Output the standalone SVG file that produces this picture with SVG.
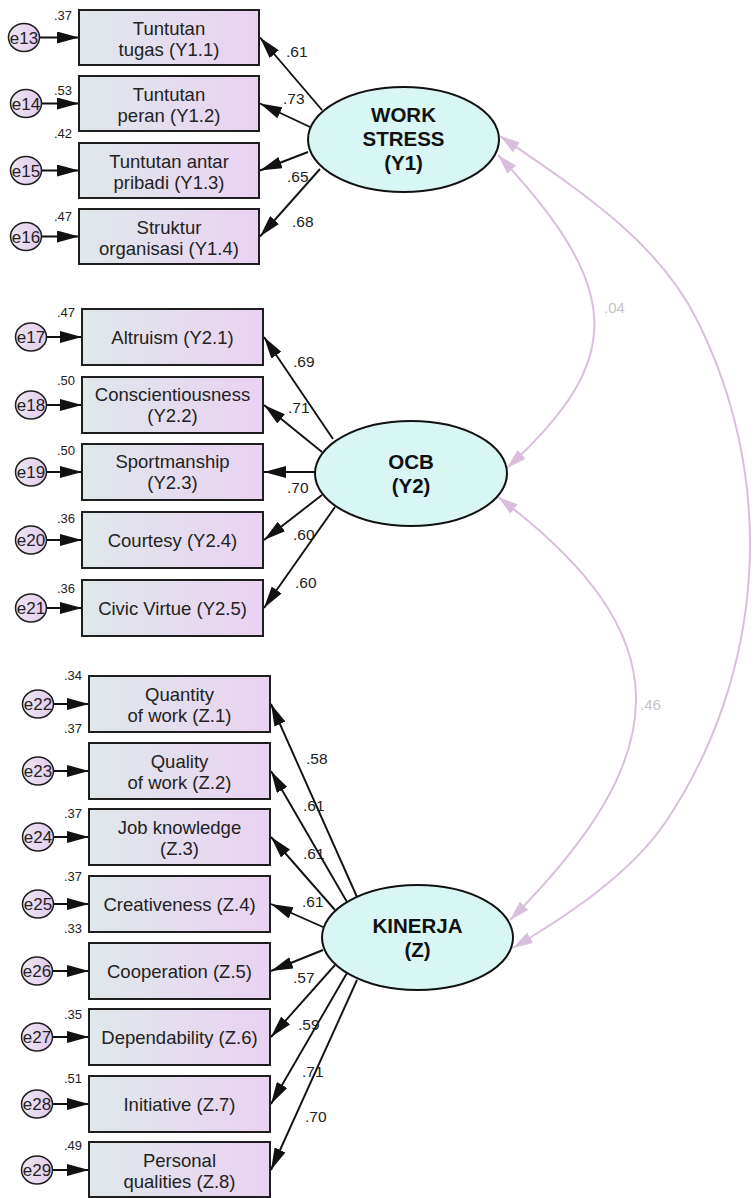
<svg xmlns="http://www.w3.org/2000/svg" width="755" height="1198" viewBox="0 0 755 1198">
  <style>
    .box { fill: url(#gBox); stroke: #1e1e1e; stroke-width: 2; }
    .err { fill: url(#gErr); stroke: #1e1e1e; stroke-width: 1.5; }
    .lat { fill: #d8f6f4; stroke: #111; stroke-width: 2; }
    .bt { font-family: "Liberation Sans", Arial, sans-serif; font-size: 18.5px; fill: #222; text-anchor: middle; }
    .et { font-family: "Liberation Sans", Arial, sans-serif; font-size: 17px; fill: #222; text-anchor: middle; }
    .lt { font-family: "Liberation Sans", Arial, sans-serif; font-size: 20.5px; font-weight: bold; fill: #111; text-anchor: middle; }
    .sm { font-family: "Liberation Sans", Arial, sans-serif; font-size: 13px; fill: #222; }
    .ld { font-family: "Liberation Sans", Arial, sans-serif; font-size: 15.5px; fill: #222; }
    .cv { font-family: "Liberation Sans", Arial, sans-serif; font-size: 15px; fill: #c4c4c4; }
    .ar { stroke: #111; stroke-width: 1.9; fill: none; marker-end: url(#ah); }
    .co { stroke: #d9bfdc; stroke-width: 2; fill: none; marker-start: url(#ahc); marker-end: url(#ahc); }
  </style>
  <defs>
    <linearGradient id="gBox" x1="0" y1="0" x2="1" y2="0">
      <stop offset="0" stop-color="#dfe8ea"/>
      <stop offset="1" stop-color="#ead2f2"/>
    </linearGradient>
    <linearGradient id="gErr" x1="0" y1="0" x2="1" y2="0">
      <stop offset="0" stop-color="#ebe6f0"/>
      <stop offset="1" stop-color="#e4cbee"/>
    </linearGradient>
    <marker id="ah" markerUnits="userSpaceOnUse" viewBox="0 0 22 12" markerWidth="22" markerHeight="12" refX="22" refY="6" orient="auto">
      <path d="M0,0 L22,6 L0,12 z" fill="#111"/>
    </marker>
    <marker id="ahc" markerUnits="userSpaceOnUse" viewBox="0 0 20 12" markerWidth="20" markerHeight="12" refX="20" refY="6" orient="auto-start-reverse">
      <path d="M0,0 L20,6 L0,12 z" fill="#d9bfdc"/>
    </marker>
  </defs>

  <!-- connectors -->
  <g id="connectors">
    <!-- error terms to indicators -->
    <line class="ar" x1="40" y1="37.5" x2="79" y2="37.5"/>
    <line class="ar" x1="42" y1="103.5" x2="79" y2="103.5"/>
    <line class="ar" x1="42" y1="170.5" x2="79" y2="170.5"/>
    <line class="ar" x1="42" y1="236.5" x2="79" y2="236.5"/>
    <line class="ar" x1="47" y1="337" x2="82" y2="337"/>
    <line class="ar" x1="47" y1="405" x2="82" y2="405"/>
    <line class="ar" x1="47" y1="472" x2="82" y2="472"/>
    <line class="ar" x1="47" y1="540" x2="82" y2="540"/>
    <line class="ar" x1="47" y1="608" x2="82" y2="608"/>
    <line class="ar" x1="54" y1="704" x2="89" y2="704"/>
    <line class="ar" x1="54" y1="771" x2="89" y2="771"/>
    <line class="ar" x1="54" y1="837" x2="89" y2="837"/>
    <line class="ar" x1="54" y1="904" x2="89" y2="904"/>
    <line class="ar" x1="53" y1="971" x2="89" y2="971"/>
    <line class="ar" x1="53" y1="1037" x2="89" y2="1037"/>
    <line class="ar" x1="53" y1="1104" x2="89" y2="1104"/>
    <line class="ar" x1="53" y1="1170" x2="89" y2="1170"/>

    <!-- WORK STRESS loadings -->
    <line class="ar" x1="322" y1="110" x2="260" y2="37.5"/>
    <line class="ar" x1="310" y1="127" x2="260" y2="103.5"/>
    <line class="ar" x1="308" y1="152" x2="260" y2="170.5"/>
    <line class="ar" x1="320" y1="169" x2="260" y2="236.5"/>

    <!-- OCB loadings -->
    <line class="ar" x1="333" y1="439" x2="264" y2="337"/>
    <line class="ar" x1="322" y1="452" x2="264" y2="405"/>
    <line class="ar" x1="315" y1="472" x2="264" y2="472"/>
    <line class="ar" x1="322" y1="495" x2="264" y2="540"/>
    <line class="ar" x1="335" y1="507" x2="264" y2="608"/>

    <!-- KINERJA loadings -->
    <line class="ar" x1="357" y1="897" x2="271" y2="704"/>
    <line class="ar" x1="347" y1="902" x2="271" y2="771"/>
    <line class="ar" x1="335" y1="910" x2="271" y2="837"/>
    <line class="ar" x1="323" y1="927" x2="271" y2="904"/>
    <line class="ar" x1="323" y1="950" x2="271" y2="971"/>
    <line class="ar" x1="335" y1="965" x2="271" y2="1037"/>
    <line class="ar" x1="347" y1="973" x2="271" y2="1104"/>
    <line class="ar" x1="357" y1="980" x2="271" y2="1170"/>

    <!-- covariances -->
    <path class="co" d="M498,155 C625,290 625,360 507,468"/>
    <path class="co" d="M500,136 C574,187 657,239 697,320 A500,500 0 0 1 667,820 C630,876 560,920 513,948"/>
    <path class="co" d="M498,497 C680,634 680,750 510,920"/>

    <!-- loading and covariance values -->
    <text class="ld" x="286" y="57">.61</text>
    <text class="ld" x="283" y="104">.73</text>
    <text class="ld" x="287" y="182">.65</text>
    <text class="ld" x="292" y="227">.68</text>
    <text class="ld" x="293" y="367">.69</text>
    <text class="ld" x="288" y="413">.71</text>
    <text class="ld" x="287" y="493">.70</text>
    <text class="ld" x="293" y="540">.60</text>
    <text class="ld" x="295" y="588">.60</text>
    <text class="ld" x="306" y="764">.58</text>
    <text class="ld" x="303" y="811">.61</text>
    <text class="ld" x="303" y="859">.61</text>
    <text class="ld" x="302" y="907">.61</text>
    <text class="ld" x="293" y="983">.57</text>
    <text class="ld" x="298" y="1030">.59</text>
    <text class="ld" x="302" y="1077">.71</text>
    <text class="ld" x="305" y="1122">.70</text>
    <text class="cv" x="604" y="313">.04</text>
    <text class="cv" x="640" y="710">.46</text>
  </g>

  <!-- WORK STRESS indicators -->
  <g id="e13"><ellipse class="err" cx="24" cy="37.5" rx="15.5" ry="14"/><text class="et" x="24" y="43.5">e13</text></g>
  <g id="e14"><ellipse class="err" cx="26" cy="103.5" rx="15.5" ry="14"/><text class="et" x="26" y="109.5">e14</text></g>
  <g id="e15"><ellipse class="err" cx="26" cy="170.5" rx="15.5" ry="14"/><text class="et" x="26" y="176.5">e15</text></g>
  <g id="e16"><ellipse class="err" cx="26" cy="236.5" rx="15.5" ry="14"/><text class="et" x="26" y="242.5">e16</text></g>

  <g id="Y1.1"><rect class="box" x="79" y="10" width="180" height="55"/><text class="bt" x="169" y="35">Tuntutan</text><text class="bt" x="169" y="56">tugas (Y1.1)</text><text class="sm" x="54" y="20">.37</text></g>
  <g id="Y1.2"><rect class="box" x="79" y="76" width="180" height="55"/><text class="bt" x="169" y="101">Tuntutan</text><text class="bt" x="169" y="122">peran (Y1.2)</text><text class="sm" x="54" y="95">.53</text></g>
  <g id="Y1.3"><rect class="box" x="79" y="143" width="180" height="55"/><text class="bt" x="169" y="168">Tuntutan antar</text><text class="bt" x="169" y="189">pribadi (Y1.3)</text><text class="sm" x="54" y="138">.42</text></g>
  <g id="Y1.4"><rect class="box" x="79" y="209" width="180" height="55"/><text class="bt" x="169" y="234">Struktur</text><text class="bt" x="169" y="255">organisasi (Y1.4)</text><text class="sm" x="54" y="221">.47</text></g>

  <!-- OCB indicators -->
  <g id="e17"><ellipse class="err" cx="31" cy="337" rx="15.5" ry="14"/><text class="et" x="31" y="343">e17</text></g>
  <g id="e18"><ellipse class="err" cx="31" cy="405" rx="15.5" ry="14"/><text class="et" x="31" y="411">e18</text></g>
  <g id="e19"><ellipse class="err" cx="31" cy="472" rx="15.5" ry="14"/><text class="et" x="31" y="478">e19</text></g>
  <g id="e20"><ellipse class="err" cx="31" cy="540" rx="15.5" ry="14"/><text class="et" x="31" y="546">e20</text></g>
  <g id="e21"><ellipse class="err" cx="31" cy="608" rx="15.5" ry="14"/><text class="et" x="31" y="614">e21</text></g>

  <g id="Y2.1"><rect class="box" x="82" y="309" width="181" height="56"/><text class="bt" x="172.5" y="343.5">Altruism (Y2.1)</text><text class="sm" x="57" y="317">.47</text></g>
  <g id="Y2.2"><rect class="box" x="82" y="377" width="181" height="56"/><text class="bt" x="172.5" y="401">Conscientiousness</text><text class="bt" x="172.5" y="422">(Y2.2)</text><text class="sm" x="57" y="385">.50</text></g>
  <g id="Y2.3"><rect class="box" x="82" y="444" width="181" height="56"/><text class="bt" x="172.5" y="468">Sportmanship</text><text class="bt" x="172.5" y="489">(Y2.3)</text><text class="sm" x="57" y="455">.50</text></g>
  <g id="Y2.4"><rect class="box" x="82" y="512" width="181" height="56"/><text class="bt" x="172.5" y="546.5">Courtesy (Y2.4)</text><text class="sm" x="57" y="523">.36</text></g>
  <g id="Y2.5"><rect class="box" x="82" y="580" width="181" height="56"/><text class="bt" x="172.5" y="614.5">Civic Virtue (Y2.5)</text><text class="sm" x="57" y="593">.36</text></g>

  <!-- KINERJA indicators -->
  <g id="e22"><ellipse class="err" cx="38" cy="704" rx="15.5" ry="14"/><text class="et" x="38" y="710">e22</text></g>
  <g id="e23"><ellipse class="err" cx="38" cy="771" rx="15.5" ry="14"/><text class="et" x="38" y="777">e23</text></g>
  <g id="e24"><ellipse class="err" cx="38" cy="837" rx="15.5" ry="14"/><text class="et" x="38" y="843">e24</text></g>
  <g id="e25"><ellipse class="err" cx="38" cy="904" rx="15.5" ry="14"/><text class="et" x="38" y="910">e25</text></g>
  <g id="e26"><ellipse class="err" cx="37" cy="971" rx="15.5" ry="14"/><text class="et" x="37" y="977">e26</text></g>
  <g id="e27"><ellipse class="err" cx="37" cy="1037" rx="15.5" ry="14"/><text class="et" x="37" y="1043">e27</text></g>
  <g id="e28"><ellipse class="err" cx="37" cy="1104" rx="15.5" ry="14"/><text class="et" x="37" y="1110">e28</text></g>
  <g id="e29"><ellipse class="err" cx="37" cy="1170" rx="15.5" ry="14"/><text class="et" x="37" y="1176">e29</text></g>

  <g id="Z.1"><rect class="box" x="89" y="676" width="181" height="56"/><text class="bt" x="179.5" y="701">Quantity</text><text class="bt" x="179.5" y="722">of work (Z.1)</text><text class="sm" x="64" y="680">.34</text></g>
  <g id="Z.2"><rect class="box" x="89" y="743" width="181" height="56"/><text class="bt" x="179.5" y="768">Quality</text><text class="bt" x="179.5" y="789">of work (Z.2)</text><text class="sm" x="64" y="733">.37</text></g>
  <g id="Z.3"><rect class="box" x="89" y="809" width="181" height="56"/><text class="bt" x="179.5" y="834">Job knowledge</text><text class="bt" x="179.5" y="855">(Z.3)</text><text class="sm" x="64" y="818">.37</text></g>
  <g id="Z.4"><rect class="box" x="89" y="876" width="181" height="56"/><text class="bt" x="179.5" y="910.5">Creativeness (Z.4)</text><text class="sm" x="64" y="881">.37</text></g>
  <g id="Z.5"><rect class="box" x="89" y="943" width="181" height="56"/><text class="bt" x="179.5" y="977.5">Cooperation (Z.5)</text><text class="sm" x="64" y="933">.33</text></g>
  <g id="Z.6"><rect class="box" x="89" y="1009" width="181" height="56"/><text class="bt" x="179.5" y="1043.5">Dependability (Z.6)</text><text class="sm" x="64" y="1019">.35</text></g>
  <g id="Z.7"><rect class="box" x="89" y="1076" width="181" height="56"/><text class="bt" x="179.5" y="1110.5">Initiative (Z.7)</text><text class="sm" x="64" y="1083">.51</text></g>
  <g id="Z.8"><rect class="box" x="89" y="1142" width="181" height="55"/><text class="bt" x="179.5" y="1167">Personal</text><text class="bt" x="179.5" y="1188">qualities (Z.8)</text><text class="sm" x="64" y="1150">.49</text></g>

  <!-- latent variables -->
  <g id="WORK_STRESS"><ellipse class="lat" cx="403.5" cy="139.5" rx="95.5" ry="52.5"/><text class="lt" x="403.5" y="122">WORK</text><text class="lt" x="403.5" y="146">STRESS</text><text class="lt" x="403.5" y="170">(Y1)</text></g>
  <g id="OCB"><ellipse class="lat" cx="411" cy="473.5" rx="96" ry="52.5"/><text class="lt" x="411" y="468.5">OCB</text><text class="lt" x="411" y="492.5">(Y2)</text></g>
  <g id="KINERJA"><ellipse class="lat" cx="417.5" cy="937.5" rx="95.5" ry="52.5"/><text class="lt" x="417.5" y="932.5">KINERJA</text><text class="lt" x="417.5" y="956.5">(Z)</text></g>
</svg>
